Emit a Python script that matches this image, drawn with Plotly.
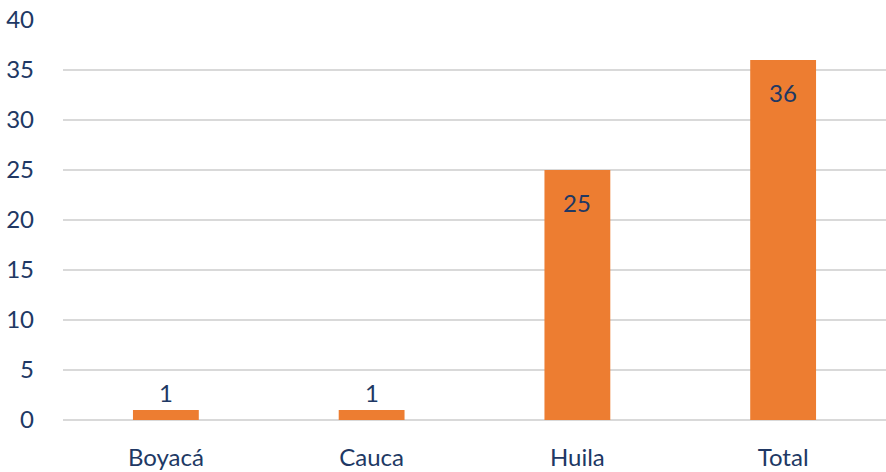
import plotly.graph_objects as go

categories = ["Boyacá", "Cauca", "Huila", "Total"]
values = [1, 1, 25, 36]
label_inside = [False, False, True, True]
y_ticks = [0, 5, 10, 15, 20, 25, 30, 35, 40]

navy = "#203864"
font_family = "Lato, sans-serif"
fsize = 24

fig = go.Figure(go.Bar(
    x=categories, y=values,
    marker=dict(color="#ED7D31", line=dict(width=0)),
    width=0.32,
    hoverinfo="x+y",
))

for c, v, inside in zip(categories, values, label_inside):
    fig.add_annotation(
        x=c, y=v, text=str(v), showarrow=False,
        yanchor="middle", yshift=-32 if inside else 18,
        font=dict(family=font_family, size=fsize, color=navy),
    )

fig.update_layout(
    width=886, height=472,
    margin=dict(l=63, r=0, t=20, b=52, autoexpand=False),
    paper_bgcolor="white", plot_bgcolor="white",
    showlegend=False,
    font=dict(family=font_family, color=navy, size=fsize),
    xaxis=dict(showgrid=False, showline=False, ticks="", automargin=False,
               ticklabeloverflow="allow",
               ticklabelstandoff=21, tickfont=dict(size=fsize, color=navy)),
    yaxis=dict(range=[0, 40], tickvals=y_ticks, showgrid=True, gridcolor="#D9D9D9", gridwidth=1.5,
               zeroline=True, zerolinecolor="#D9D9D9", zerolinewidth=1.5, automargin=False,
               ticklabeloverflow="allow",
               showline=False, ticks="", ticklabelstandoff=28, tickfont=dict(size=fsize, color=navy)),
)

fig.write_html("out.html", config={"displayModeBar": False},
               post_script="document.body.style.margin='0';document.body.style.overflow='hidden';")
